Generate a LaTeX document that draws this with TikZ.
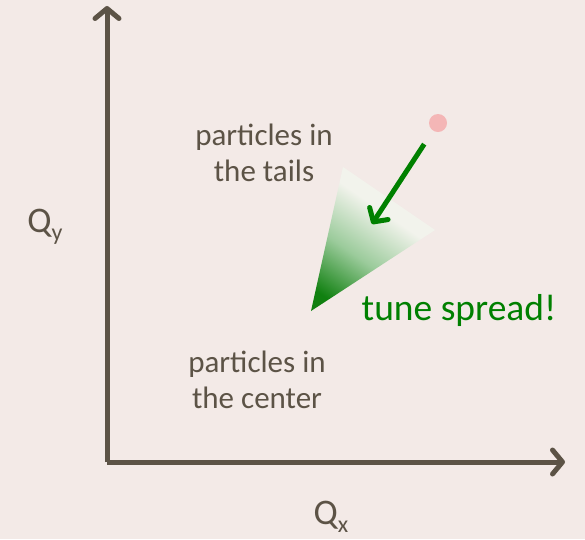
\documentclass[tikz,border=0pt]{standalone}
\usepackage{fontspec}
\setmainfont{Carlito}
\usetikzlibrary{arrows.meta}

\definecolor{bgcol}{RGB}{243,234,231}
\definecolor{axiscol}{RGB}{92,83,70}
\definecolor{tunegreen}{RGB}{0,128,0}
\definecolor{dotpink}{RGB}{244,182,182}
\definecolor{fadedark}{RGB}{16,128,16}
\definecolor{fademid}{RGB}{155,203,155}
\definecolor{fadelight}{RGB}{242,243,236}

% gradient takes up the middle part of the shading
\pgfdeclareverticalshading{tunefade}{100bp}{color(0bp)=(fadedark); color(40bp)=(fadedark); color(50.5bp)=(fademid); color(61bp)=(fadelight); color(100bp)=(fadelight)}

\tikzset{
  axisline/.style = {draw=axiscol, line width=5pt, -{Straight Barb[length=10pt,width=24pt,round]}},
  tunearrow/.style = {draw=tunegreen, line width=5pt, -{Straight Barb[length=10pt,width=22pt,round]}},
  lbl/.style = {text=axiscol, align=center, font=\fontsize{31}{36}\selectfont, inner sep=0pt},
  tunelbl/.style = {text=tunegreen, font=\fontsize{37.5}{42}\selectfont, inner sep=0pt},
  qlbl/.style = {text=axiscol, font=\fontsize{36}{40}\selectfont, inner sep=0pt}
}

\newcommand{\qsub}[1]{\raisebox{-0.22em}{\fontsize{24}{24}\selectfont #1}}

\begin{document}
\begin{tikzpicture}[x=1pt, y=-1pt]
    % Background
    \fill[bgcol] (0,0) rectangle (585,539);
    \useasboundingbox (0,0) rectangle (585,539);

    % Axes
    \coordinate (O) at (107,462);
    \coordinate (Ytip) at (107,6);
    \coordinate (Xtip) at (565,462);
    \draw[axisline] (O) -- (Ytip);
    \draw[axisline] (O) -- (Xtip);

    % Spread triangle, fading from its lower corner
    \coordinate (T1) at (343,167);
    \coordinate (T2) at (435,230);
    \coordinate (T3) at (311,311);
    \coordinate (M) at (349.9,254.6);
    \begin{scope}
        \clip (T1) -- (T2) -- (T3) -- cycle;
        \shade[shading=tunefade, shading angle=-34.6]
            (M) ++(-123,-123) rectangle ++(246,246);
    \end{scope}

    % Single particle and its shift
    \node (dot) at (438,123) [circle, fill=dotpink, minimum size=18pt, inner sep=0pt] {};
    \coordinate (Atip) at (372,224);
    \draw[tunearrow, shorten <=16pt] (dot) -- (Atip);

    % Labels
    \node (tails) at (264,153) [lbl] {particles in\\the tails};
    \node (center) at (257,380) [lbl] {particles in\\the center};
    \node (tune) at (459,310) [tunelbl] {tune spread!};
    \node (qy) at (45,227) [qlbl] {Q\qsub{y}};
    \node (qx) at (331,517) [qlbl] {Q\qsub{x}};

\end{tikzpicture}
\end{document}
